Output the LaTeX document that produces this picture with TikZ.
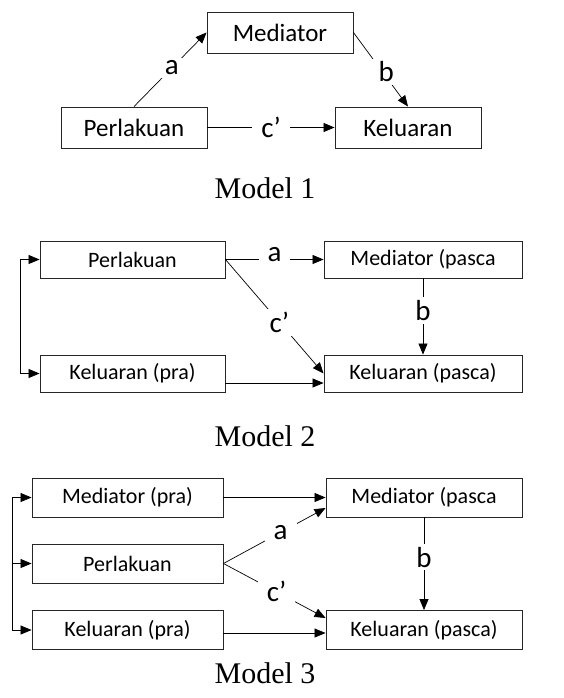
\documentclass[tikz,border=0pt]{standalone}
\usepackage{fontspec}
\setmainfont{Liberation Serif}
\newfontfamily\calfont{Carlito}
\usetikzlibrary{arrows.meta}
\tikzset{
  kotak/.style = {draw = black!85, line width = 0.9pt, rectangle, inner sep = 0pt, font = \calfont\fontsize{22}{26}\selectfont},
  besar/.style = {font = \calfont\fontsize{25}{30}\selectfont},
  panah/.style = {-{Triangle[length = 11pt, width = 9pt]}, line width = 0.7pt},
  huruf/.style = {fill = white, inner xsep = 9pt, inner ysep = 3pt, font = \calfont\fontsize{29}{32}\selectfont},
  judul/.style = {font = \fontsize{30}{34}\selectfont}
}

\begin{document}
\begin{tikzpicture}[x = 1pt, y = -1pt]
        \useasboundingbox (0, 0) rectangle (563, 698);

        % Model 1
        \node [kotak, besar, minimum width = 146pt, minimum height = 41pt] (medA) at (280, 32.5) {Mediator};
        \node [kotak, besar, minimum width = 146pt, minimum height = 41pt] (perlA) at (134, 127.5) {Perlakuan};
        \node [kotak, besar, minimum width = 146pt, minimum height = 41pt] (kelA) at (408, 127.5) {Keluaran};
        \node [judul] (capA) at (265, 188) {Model 1};

        \draw [panah] (perlA.north) -- node [huruf, pos = 0.52] {a} (medA.west);
        \draw [panah] (medA.east) -- node [huruf, pos = 0.53, xshift = 4pt] {b} (kelA.north);
        \draw [panah] (perlA.east) -- node [huruf] {c’} (kelA.west);

        % Model 2
        \node [kotak, minimum width = 185pt, minimum height = 37pt] (perlB) at (132.5, 259.5) {Perlakuan};
        \node [kotak, minimum width = 198pt, minimum height = 37pt] (medB) at (423, 259.5) {Mediator (pasca};
        \node [kotak, minimum width = 185pt, minimum height = 37pt] (kpraB) at (132.5, 373.5) {Keluaran (pra)};
        \node [kotak, minimum width = 198pt, minimum height = 37pt] (kpascaB) at (423, 373.5) {Keluaran (pasca)};
        \node [judul] (capB) at (265, 436) {Model 2};
        \coordinate (kiriB) at (20, 259.5);

        \draw [panah] (kiriB) -- (perlB.west);
        \draw [panah] (kiriB) |- (kpraB.west);
        \draw [panah] (perlB.east) -- node [huruf, yshift = 5pt] {a} (medB.west);
        \draw [panah] (perlB.east) -- node [huruf, pos = 0.55] {c’} (kpascaB.west);
        \draw [panah] ([yshift = -9.5pt]kpraB.east) -- ([yshift = -9.5pt]kpascaB.west);
        \draw [panah] (medB.south) -- node [huruf, pos = 0.42] {b} (kpascaB.north);

        % Model 3
        \node [kotak, minimum width = 191pt, minimum height = 39pt] (mpraC) at (127.5, 497.5) {Mediator (pra)};
        \node [kotak, minimum width = 191pt, minimum height = 39pt] (perlC) at (127.5, 563.5) {Perlakuan};
        \node [kotak, minimum width = 191pt, minimum height = 39pt] (kpraC) at (127.5, 630) {Keluaran (pra)};
        \node [kotak, minimum width = 196pt, minimum height = 39pt] (mpascaC) at (424, 497.5) {Mediator (pasca};
        \node [kotak, minimum width = 196pt, minimum height = 39pt] (kpascaC) at (424, 630) {Keluaran (pasca)};
        \node [judul] (capC) at (265, 673) {Model 3};
        \coordinate (kiriC) at (12, 497.5);

        \draw [panah] (kiriC) -- (mpraC.west);
        \draw [panah] (kiriC |- perlC.west) -- (perlC.west);
        \draw [panah] (kiriC) |- (kpraC.west);
        \draw [panah] (mpraC.east) -- (mpascaC.west);
        \draw [panah] (perlC.east) -- node [huruf, pos = 0.56] {a} ([yshift = -10.5pt]mpascaC.west);
        \draw [panah] (perlC.east) -- node [huruf, pos = 0.52] {c’} ([yshift = 12pt]kpascaC.west);
        \draw [panah] ([yshift = -3pt]kpraC.east) -- ([yshift = -3pt]kpascaC.west);
        \draw [panah] (mpascaC.south) -- node [huruf, pos = 0.43] {b} (kpascaC.north);

    \end{tikzpicture}
\end{document}
